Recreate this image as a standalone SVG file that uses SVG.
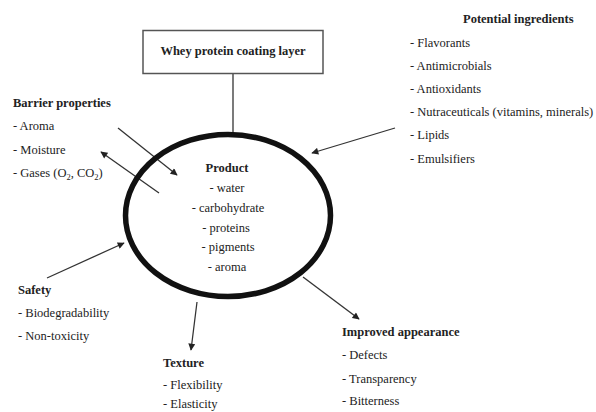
<svg xmlns="http://www.w3.org/2000/svg" width="596" height="412" viewBox="0 0 596 412">
<style>
text { font-family: "Liberation Serif", "Times New Roman", serif; font-size: 12.5px; fill: #222; }
.h { font-weight: bold; }
.c { text-anchor: middle; }
.ar { stroke: #333; stroke-width: 1.3; fill: none; marker-end: url(#ah); }
.ln { stroke: #333; stroke-width: 1.3; fill: none; }
</style>
<defs>
<marker id="ah" viewBox="0 0 10 10" refX="9" refY="5" markerWidth="8" markerHeight="7" markerUnits="userSpaceOnUse" orient="auto">
<path d="M0,0 L10,5 L0,10 z" fill="#222"/>
</marker>
</defs>
<rect width="596" height="412" fill="#fff"/>

<g id="connectors">
<line class="ln" x1="233" y1="73" x2="233" y2="133"/>
<line class="ar" x1="118" y1="128" x2="177" y2="175"/>
<line class="ar" x1="159" y1="193" x2="101" y2="152"/>
<line class="ar" x1="395" y1="128" x2="312" y2="153"/>
<line class="ar" x1="47" y1="278" x2="124" y2="243"/>
<line class="ar" x1="197" y1="302" x2="191" y2="350"/>
<line class="ar" x1="303" y1="277" x2="359" y2="319"/>
</g>

<g id="coating">
<rect x="143" y="30.5" width="180" height="43" fill="#fff" stroke="#555" stroke-width="1.5"/>
<text class="h c" x="233" y="55">Whey protein coating layer</text>
</g>

<g id="product">
<ellipse cx="228" cy="215.5" rx="102.5" ry="81" fill="none" stroke="#111" stroke-width="5.5"/>
<text class="h c" x="227" y="172">Product</text>
<text class="c" x="227" y="192">- water</text>
<text class="c" x="228" y="212">- carbohydrate</text>
<text class="c" x="226" y="232">- proteins</text>
<text class="c" x="228" y="251">- pigments</text>
<text class="c" x="227" y="271">- aroma</text>
</g>

<g id="barrier">
<text class="h" x="13" y="107">Barrier properties</text>
<text x="13" y="130">- Aroma</text>
<text x="13" y="154">- Moisture</text>
<text x="13" y="177">- Gases (O<tspan font-size="8.5" dy="3">2</tspan><tspan dy="-3">, CO</tspan><tspan font-size="8.5" dy="3">2</tspan><tspan dy="-3">)</tspan></text>
</g>

<g id="ingredients">
<text class="h" x="463" y="23">Potential ingredients</text>
<text x="410" y="47">- Flavorants</text>
<text x="410" y="70">- Antimicrobials</text>
<text x="410" y="93">- Antioxidants</text>
<text x="410" y="116">- Nutraceuticals (vitamins, minerals)</text>
<text x="410" y="139">- Lipids</text>
<text x="410" y="163">- Emulsifiers</text>
</g>

<g id="safety">
<text class="h" x="18" y="294">Safety</text>
<text x="18" y="317">- Biodegradability</text>
<text x="18" y="340">- Non-toxicity</text>
</g>

<g id="texture">
<text class="h" x="163" y="367">Texture</text>
<text x="163" y="389">- Flexibility</text>
<text x="163" y="408">- Elasticity</text>
</g>

<g id="appearance">
<text class="h" x="342" y="336">Improved appearance</text>
<text x="342" y="359">- Defects</text>
<text x="342" y="383">- Transparency</text>
<text x="342" y="405">- Bitterness</text>
</g>
</svg>
